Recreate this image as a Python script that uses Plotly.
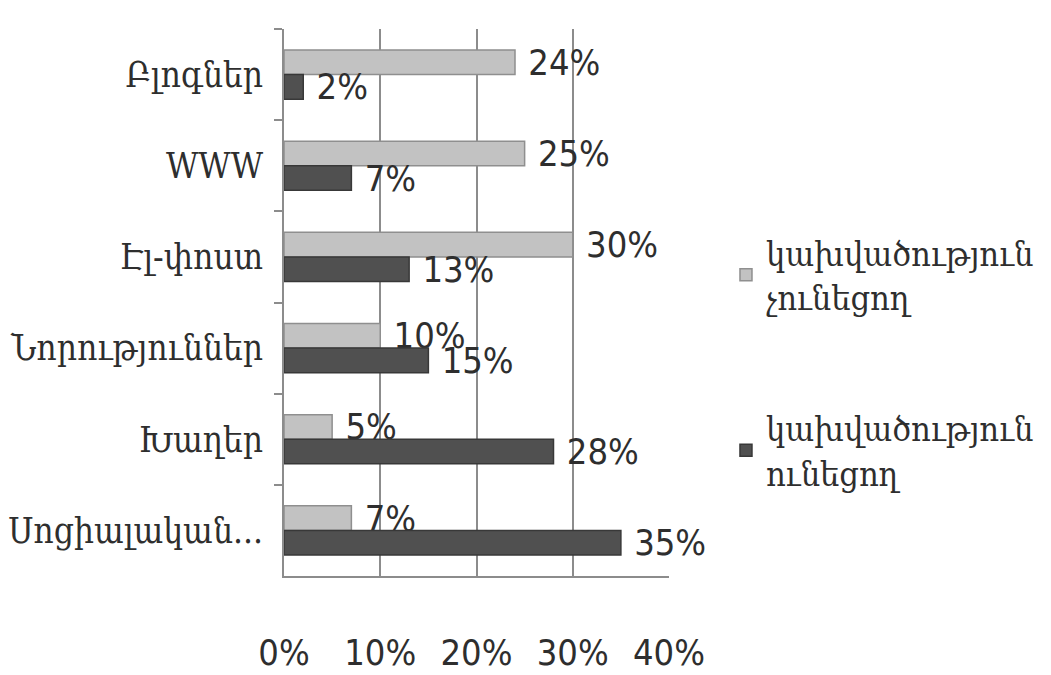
import plotly.graph_objects as go

categories = ["Բլոգներ", "WWW", "Էլ-փոստ", "Նորություններ", "Խաղեր", "Սոցիալական..."]
not_addicted = [0.24, 0.25, 0.30, 0.10, 0.05, 0.07]
addicted = [0.02, 0.07, 0.13, 0.15, 0.28, 0.35]
x_ticks = [0, 0.1, 0.2, 0.3, 0.4]
x_tick_labels = ["0%", "10%", "20%", "30%", "40%"]
series_names = ["կախվածություն<br>չունեցող", "կախվածություն<br>ունեցող"]

ARM_FONT = "DejaVu Serif Condensed, DejaVu Serif, serif"
NUM_FONT = "DejaVu Sans Condensed, DejaVu Sans, sans-serif"
TEXT_COLOR = "#2e2e2e"
GRID_COLOR = "#8c8c8c"

fig = go.Figure()
fig.add_trace(go.Bar(
    y=categories, x=not_addicted, orientation="h", name=series_names[0],
    legendgroup="a",
    marker=dict(color="#c2c2c2", line=dict(color="#8f8f8f", width=1.5)),
    texttemplate=" %{x:.0%}", textposition="outside",
    textfont=dict(family=NUM_FONT, size=36, color=TEXT_COLOR),
    cliponaxis=False,
))
fig.add_trace(go.Bar(
    y=categories, x=addicted, orientation="h", name=series_names[1],
    legendgroup="b",
    marker=dict(color="#505050", line=dict(color="#383838", width=1.5)),
    texttemplate=" %{x:.0%}", textposition="outside",
    textfont=dict(family=NUM_FONT, size=36, color=TEXT_COLOR),
    cliponaxis=False,
))

fig.update_layout(
    width=1051, height=675,
    margin=dict(l=284, r=379, t=29, b=99),
    paper_bgcolor="white", plot_bgcolor="white",
    barmode="group", bargap=0.46, bargroupgap=0.0,
    legend=dict(
        x=1.148, y=0.39, xanchor="left", yanchor="middle",
        font=dict(family=ARM_FONT, size=34, color=TEXT_COLOR),
        traceorder="grouped", itemwidth=30, tracegroupgap=84,
        bgcolor="rgba(0,0,0,0)",
    ),
    xaxis=dict(
        range=[0, 0.4], tickvals=x_ticks, ticktext=x_tick_labels,
        showgrid=True, gridcolor=GRID_COLOR, gridwidth=1.5,
        zeroline=False, showline=True, linecolor=GRID_COLOR, linewidth=2,
        ticks="", ticklabelstandoff=44, automargin=False,
        tickfont=dict(family=NUM_FONT, size=36, color=TEXT_COLOR),
    ),
    yaxis=dict(
        autorange="reversed", showline=True, linecolor=GRID_COLOR, linewidth=2,
        ticks="outside", tickson="boundaries", ticklen=8, tickcolor=GRID_COLOR,
        tickwidth=2, showgrid=False, ticklabelstandoff=12, automargin=False,
        tickfont=dict(family=ARM_FONT, size=35, color=TEXT_COLOR),
    ),
)
fig.update_traces(constraintext="none")

fig.write_html("out.html")
